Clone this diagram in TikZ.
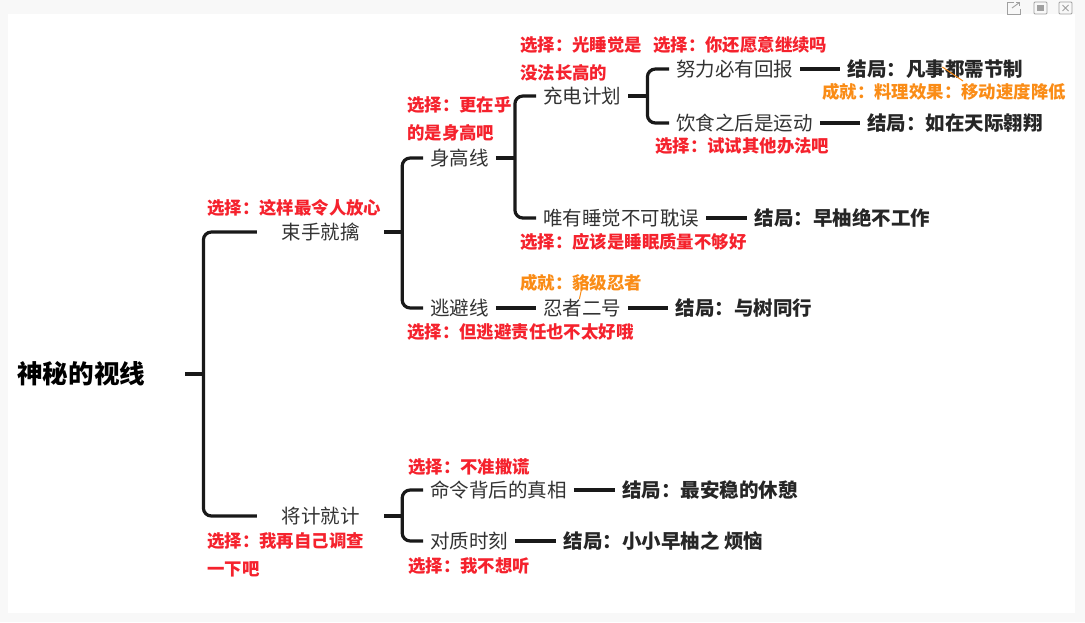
\documentclass[tikz,border=0pt]{standalone}
\usepackage{fontspec}
\setmainfont{Noto Sans CJK SC}
\usetikzlibrary{positioning}
\usetikzlibrary{calc}

\definecolor{choicered}{HTML}{F5222D}
\definecolor{achieveorange}{HTML}{FA8C16}
\definecolor{itemgray}{HTML}{333333}
\definecolor{panelgray}{HTML}{F8F8F8}
\definecolor{icongray}{HTML}{A0A0A0}

\begin{document}
\begin{tikzpicture}[
  x=1pt, y=-1pt,
  topic/.style={
    font=\fontsize{25.6}{30}\selectfont\bfseries,
    text=black,
    inner xsep=7pt,
    inner ysep=3pt
  },
  item/.style={
    font=\fontsize{19.5}{23}\selectfont,
    text=itemgray,
    inner xsep=7pt,
    inner ysep=3pt
  },
  ending/.style={
    item,
    font=\fontsize{19.5}{23}\selectfont\bfseries,
    text=black!85
  },
  choice/.style={
    font=\fontsize{17.4}{27.5}\selectfont\bfseries,
    text=choicered,
    inner sep=0pt,
    align=left,
    anchor=west
  },
  achieve/.style={choice, text=achieveorange},
  link/.style={line width=3.2pt, draw=black!90, rounded corners=8pt},
  tick/.style={line width=1pt, draw=achieveorange},
  icon/.style={line width=0.9pt, draw=icongray}
]
% panel
\fill[panelgray] (0,0) rectangle (1085,622);
\fill[white] (8,14) rectangle (1075,613);
\useasboundingbox (0,0) rectangle (1085,622);

% window icons
\draw[icon] (1014,2) -| (1007,14) -| (1020,9);
\draw[icon] (1012,8) -- (1019.5,2.5);
\draw[icon] (1016,2.5) -- (1019.5,2.5) -- (1019.5,6);
\draw[icon, rounded corners=1pt] (1034,2) rectangle (1047,14);
\fill[icongray] (1037,5) rectangle (1044,11);
\draw[icon, rounded corners=1pt] (1059,2) rectangle (1072,14);
\draw[icon] (1062.5,5) -- (1068.5,11) (1062.5,11) -- (1068.5,5);

% root
\node[topic, anchor=west, text width=161pt, align=left] (root) at (10,374) {神秘的视线};

% first level
\node[item, minimum width=127pt] (shoushou) at (320.5,232) {束手就擒};
\node[item, minimum width=127pt] (jiangji) at (320.5,516) {将计就计};

\coordinate (j0) at ($(root.east)+(18,0)$);
\draw[link] (root.east) -- (j0);
\draw[link] (shoushou.west) -| (j0) |- (jiangji.west);

% height line / escape line
\node[item, anchor=west] (shengao) at (423,158) {身高线};
\node[item, anchor=west] (taobi) at (423,308) {逃避线};

\coordinate (j1) at ($(shoushou.east)+(18,0)$);
\draw[link] (shoushou.east) -- (j1);
\draw[link] (shengao.west) -| (j1) |- (taobi.west);

\node[item, anchor=west] (chongdian) at (536,96) {充电计划};
\node[item, anchor=west] (weiyou) at (536,218) {唯有睡觉不可耽误};

\coordinate (j2) at ($(shengao.east)+(19,0)$);
\draw[link] (shengao.east) -- (j2);
\draw[link] (chongdian.west) -| (j2) |- (weiyou.west);

\node[item, anchor=west] (nuli) at (669,69) {努力必有回报};
\node[item, anchor=west] (yinshi) at (669,123) {饮食之后是运动};

\coordinate (j3) at ($(chongdian.east)+(19,0)$);
\draw[link] (chongdian.east) -- (j3);
\draw[link] (nuli.west) -| (j3) |- (yinshi.west);

\node[ending, right=40pt of nuli] (end1) {结局：凡事都需节制};
\node[ending, right=40pt of yinshi] (end2) {结局：如在天际翱翔};
\node[ending, right=41pt of weiyou] (end3) {结局：早柚绝不工作};
\draw[link] (nuli) -- (end1);
\draw[link] (yinshi) -- (end2);
\draw[link] (weiyou) -- (end3);

\node[item, right=40pt of taobi] (renzhe) {忍者二号};
\node[ending, right=40pt of renzhe] (end4) {结局：与树同行};
\draw[link] (taobi) -- (renzhe);
\draw[link] (renzhe) -- (end4);

% second branch
\node[item, anchor=west] (mingling) at (423,490) {命令背后的真相};
\node[item, anchor=west] (duizhi) at (423,541) {对质时刻};

\coordinate (j4) at ($(jiangji.east)+(18,0)$);
\draw[link] (jiangji.east) -- (j4);
\draw[link] (mingling.west) -| (j4) |- (duizhi.west);

\node[ending, right=41pt of mingling] (end5) {结局：最安稳的休憩};
\node[ending, right=41pt of duizhi] (end6) {结局：小小早柚之 烦恼};
\draw[link] (mingling) -- (end5);
\draw[link] (duizhi) -- (end6);

% choices
\node[choice] (c1) at (207,208) {选择：这样最令人放心};
\node[choice] (c2) at (407,119) {选择：更在乎\\的是身高吧};
\node[choice] (c3) at (520,59) {选择：光睡觉是\\没法长高的};
\node[choice] (c4) at (653,45) {选择：你还愿意继续吗};
\node[choice] (c5) at (655,146) {选择：试试其他办法吧};
\node[choice] (c6) at (520,242) {选择：应该是睡眠质量不够好};
\node[choice] (c7) at (407,332) {选择：但逃避责任也不太好哦};
\node[choice] (c8) at (408,467) {选择：不准撒谎};
\node[choice] (c9) at (207,555) {选择：我再自己调查\\一下吧};
\node[choice] (c10) at (408,566) {选择：我不想听};

% achievements
\node[achieve] (ach1) at (822,92) {成就：料理效果：移动速度降低};
\node[achieve] (ach2) at (520,283) {成就：貉级忍者};
\draw[tick] ($(end1.west)+(102,-2)$) -- ($(ach1.west)+(141,-11)$);
\draw[tick] ($(ach2.west)+(62,4)$) -- ($(renzhe.west)+(43.5,-9)$);

\end{tikzpicture}
\end{document}
